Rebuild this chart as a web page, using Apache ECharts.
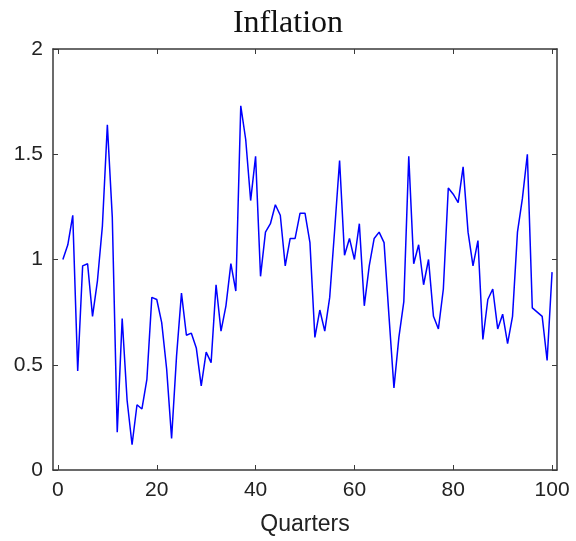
<!DOCTYPE html>
<html>
<head>
<meta charset="utf-8">
<script src="https://cdn.jsdelivr.net/npm/echarts@6/dist/echarts.min.js"></script>
<style>
    html, body { margin: 0; padding: 0; background: #ffffff; }
    #chart { width: 576px; height: 541px; }
</style>
</head>
<body>
<div id="chart"></div>
<script>
const TITLE = "Inflation";
const X_NAME = "Quarters";
const X_TICKS = [0, 20, 40, 60, 80, 100];

// quarters 1..100
const INFLATION = [
    1.00, 1.07, 1.21, 0.47, 0.97, 0.98, 0.73, 0.90, 1.16, 1.64,
    1.20, 0.18, 0.72, 0.33, 0.12, 0.31, 0.29, 0.43, 0.82, 0.81,
    0.70, 0.48, 0.15, 0.54, 0.84, 0.64, 0.65, 0.58, 0.40, 0.56,
    0.51, 0.88, 0.66, 0.78, 0.98, 0.85, 1.73, 1.57, 1.28, 1.49,
    0.92, 1.13, 1.17, 1.26, 1.21, 0.97, 1.10, 1.10, 1.22, 1.22,
    1.08, 0.63, 0.76, 0.66, 0.82, 1.14, 1.47, 1.02, 1.10, 1.00,
    1.17, 0.78, 0.97, 1.10, 1.13, 1.08, 0.73, 0.39, 0.63, 0.80,
    1.49, 0.98, 1.07, 0.88, 1.00, 0.73, 0.67, 0.86, 1.34, 1.31,
    1.27, 1.44, 1.13, 0.97, 1.09, 0.62, 0.81, 0.86, 0.67, 0.74,
    0.60, 0.73, 1.13, 1.29, 1.50, 0.77, 0.75, 0.73, 0.52, 0.94,
];

const chart = echarts.init(document.getElementById("chart"), null, { renderer: "canvas" });

const frame = { show: true, onZero: false, lineStyle: { color: "#3a3a3a", width: 1.5 } };
const tickStyle = { show: true, inside: true, length: 5, lineStyle: { color: "#3a3a3a", width: 1 } };
const labelFont = { color: "#222222", fontSize: 21, fontFamily: "Liberation Sans, Arial, sans-serif" };

chart.setOption({
    animation: false,
    title: {
        text: TITLE,
        left: "center",
        top: 3,
        textStyle: { fontFamily: "Liberation Serif, serif", fontWeight: "normal", fontSize: 32, color: "#111111" },
    },
    grid: { left: 53, right: 19, top: 49, bottom: 70 },
    xAxis: [
        {
            type: "value",
            min: -1,
            max: 101,
            position: "bottom",
            name: X_NAME,
            nameLocation: "middle",
            nameGap: 43,
            nameTextStyle: { color: "#222222", fontSize: 23, fontFamily: "Liberation Sans, Arial, sans-serif" },
            axisLine: frame,
            axisTick: { ...tickStyle, customValues: X_TICKS },
            axisLabel: { ...labelFont, margin: 10, customValues: X_TICKS },
            splitLine: { show: false },
        },
        {
            type: "value",
            min: -1,
            max: 101,
            position: "top",
            axisLine: frame,
            axisTick: { ...tickStyle, customValues: X_TICKS },
            axisLabel: { show: false, customValues: X_TICKS },
            splitLine: { show: false },
        },
    ],
    yAxis: [
        {
            type: "value",
            min: 0,
            max: 2,
            interval: 0.5,
            position: "left",
            axisLine: frame,
            axisTick: tickStyle,
            axisLabel: { ...labelFont, margin: 10 },
            splitLine: { show: false },
        },
        {
            type: "value",
            min: 0,
            max: 2,
            interval: 0.5,
            position: "right",
            axisLine: frame,
            axisTick: tickStyle,
            axisLabel: { show: false },
            splitLine: { show: false },
        },
    ],
    series: [{
        type: "line",
        xAxisIndex: 0,
        yAxisIndex: 0,
        data: INFLATION.map((v, i) => [i + 1, v]),
        showSymbol: false,
        lineStyle: { color: "#0000ff", width: 1.5 },
        silent: true,
    }],
});
</script>
</body>
</html>
